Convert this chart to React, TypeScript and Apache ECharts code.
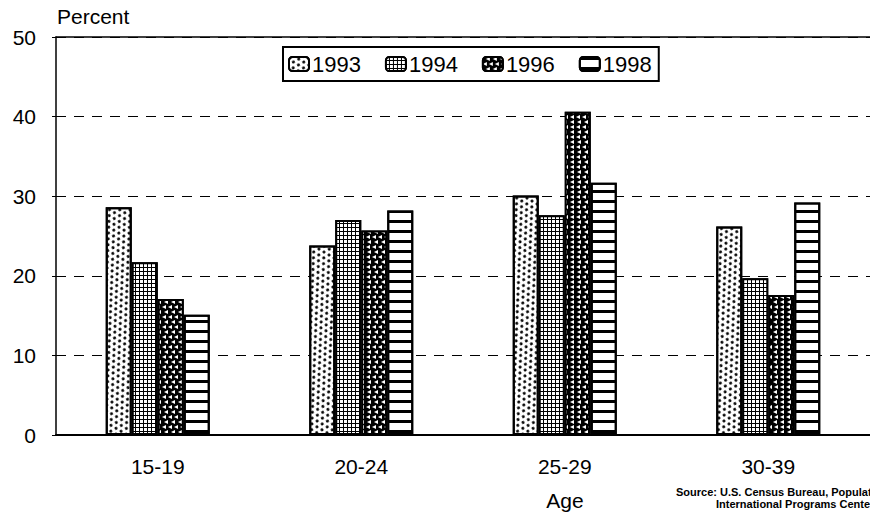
import React, { useEffect, useRef } from "react";
import * as echarts from "echarts";

const categories = ["15-19", "20-24", "25-29", "30-39"];
const years = ["1993", "1994", "1996", "1998"];
const v1993 = [28.6, 23.8, 30.1, 26.2];
const v1994 = [21.7, 27.0, 27.6, 19.7];
const v1996 = [17.1, 25.7, 40.6, 17.6];
const v1998 = [15.1, 28.2, 31.7, 29.2];
const yTicks = [0, 10, 20, 30, 40, 50];

const FONT = "'Liberation Sans', Arial, sans-serif";

export default function App() {
  const ref = useRef<HTMLDivElement>(null);
  useEffect(() => {
    if (!ref.current) return;
    const chart = echarts.init(ref.current, undefined, { renderer: "svg" });
    const decals: any[] = [
      {
        color: "#fff",
        decal: {
          symbol: "circle",
          symbolSize: 1,
          color: "#000",
          backgroundColor: "#fff",
          dashArrayX: [[3, 3], [0, 3, 3, 0]],
          dashArrayY: [3, 2],
          rotation: -0.5,
        },
      },
      {
        color: "#000",
        decal: {
          symbol: "rect",
          symbolSize: 1,
          color: "#fff",
          backgroundColor: "#000",
          dashArrayX: [3, 1],
          dashArrayY: [3, 1],
          rotation: 0,
        },
      },
      {
        color: "#000",
        decal: {
          symbol: "path://M10,0 L0,5 L10,10 Z",
          symbolSize: 1,
          symbolKeepAspect: false,
          color: "#fff",
          backgroundColor: "#000",
          dashArrayX: [[4, 2], [0, 3, 4, 0]],
          dashArrayY: [4, 1],
          rotation: 0,
        },
      },
      {
        color: "#fff",
        decal: {
          symbol: "rect",
          symbolSize: 1,
          color: "#000",
          backgroundColor: "#fff",
          dashArrayX: [1, 0],
          dashArrayY: [3, 7],
          rotation: 0,
        },
      },
    ];
    const vals = [v1993, v1994, v1996, v1998];
    const series = years.map((y, i) => ({
      name: y,
      type: "bar",
      data: vals[i],
      barWidth: 26,
      barGap: "0%",
      xAxisIndex: 0,
      itemStyle: {
        color: decals[i].color,
        borderColor: "#000",
        borderWidth: 2,
        decal: decals[i].decal,
      },
    }));
    chart.setOption({
      animation: false,
      backgroundColor: "#fff",
      textStyle: { fontFamily: FONT },
      grid: { left: 56, top: 37, width: 820, height: 398 },
      legend: {
        data: years,
        left: 283,
        top: 47,
        orient: "horizontal",
        itemWidth: 20,
        itemHeight: 14,
        itemGap: 24,
        padding: [6, 7, 6, 5],
        borderColor: "#000",
        borderWidth: 2,
        backgroundColor: "#fff",
        textStyle: { fontSize: 22, color: "#000", fontFamily: FONT, padding: [0, 0, 0, -2] },
      },
      xAxis: [
        {
          type: "category",
          data: categories,
          position: "bottom",
          axisLine: { lineStyle: { color: "#000", width: 2 } },
          axisTick: { show: false },
          axisLabel: { fontSize: 21, color: "#000", margin: 21, fontFamily: FONT },
        },
        {
          type: "category",
          data: categories,
          position: "top",
          axisLine: { show: true, lineStyle: { color: "#000", width: 1.5 } },
          axisTick: { show: false },
          axisLabel: { show: false },
        },
      ],
      yAxis: {
        type: "value",
        min: yTicks[0],
        max: yTicks[yTicks.length - 1],
        interval: 10,
        axisLine: { show: true, lineStyle: { color: "#000", width: 1.5 } },
        axisTick: { show: true, length: 4, lineStyle: { color: "#000" } },
        axisLabel: { fontSize: 21, color: "#000", margin: 20, fontFamily: FONT },
        splitLine: {
          show: true,
          lineStyle: { color: "#000", type: [10, 8], width: 1 },
        },
      },
      graphic: [
        {
          type: "text",
          left: 57,
          top: 6,
          style: { text: "Percent", font: `21px ${FONT}`, fill: "#000" },
        },
        {
          type: "text",
          x: 565,
          y: 500,
          style: {
            text: "Age",
            font: `21px ${FONT}`,
            fill: "#000",
            align: "center",
            verticalAlign: "middle",
          },
        },
        {
          type: "text",
          x: 676,
          y: 492,
          style: {
            text: "Source: U.S. Census Bureau, Population Division",
            font: `bold 11px 'Liberation Sans Narrow', ${FONT}`,
            fill: "#000",
            verticalAlign: "middle",
          },
        },
        {
          type: "text",
          x: 716,
          y: 504,
          style: {
            text: "International Programs Center",
            font: `bold 11px 'Liberation Sans Narrow', ${FONT}`,
            fill: "#000",
            verticalAlign: "middle",
          },
        },
      ],
      series,
    });
    return () => chart.dispose();
  }, []);
  return (
    <div
      ref={ref}
      style={{ position: "fixed", left: 0, top: 0, width: 870, height: 516, background: "#fff" }}
    />
  );
}
